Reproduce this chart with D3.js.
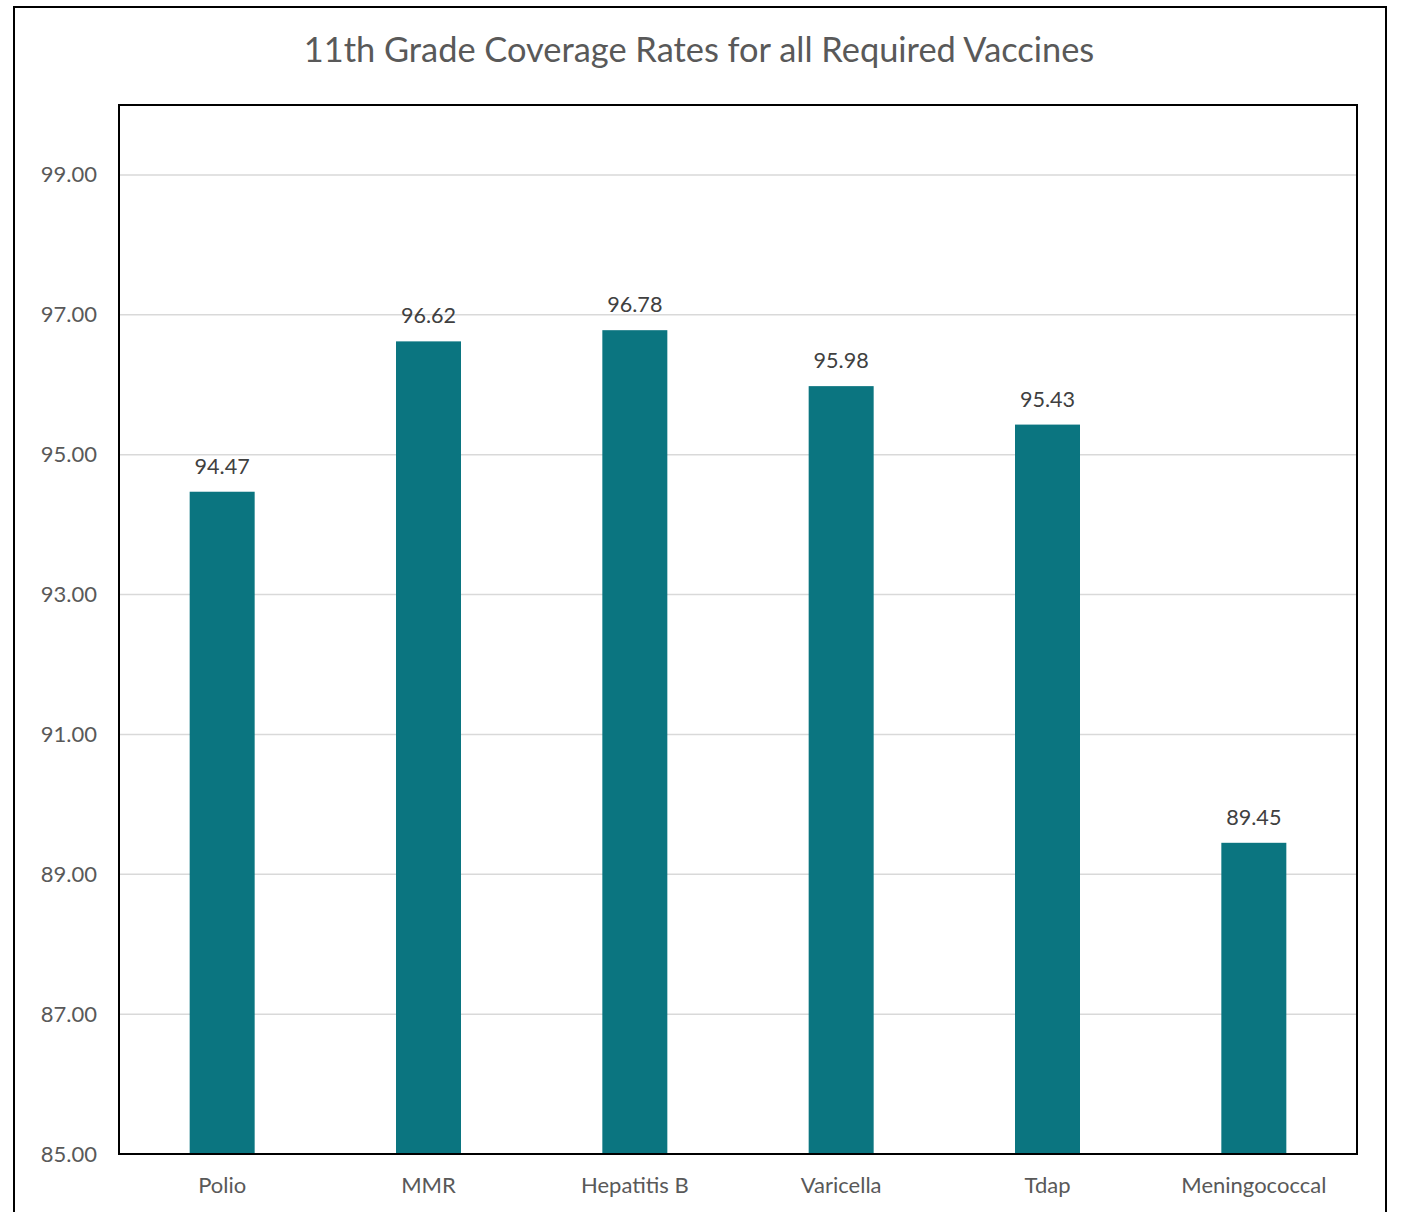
<!DOCTYPE html>
<html>
<head>
<style>
  body { margin: 0; background: #fff; }
  svg text { font-family: Lato, "Open Sans", sans-serif; }
</style>
</head>
<body>
<svg id="chart" width="1401" height="1212"></svg>
<script src="https://cdn.jsdelivr.net/npm/d3@7"></script>
<script>
// data
const categories = ["Polio", "MMR", "Hepatitis B", "Varicella", "Tdap", "Meningococcal"];
const coverage = [94.47, 96.62, 96.78, 95.98, 95.43, 89.45];
const yTicks = [85, 87, 89, 91, 93, 95, 97, 99];
const title = "11th Grade Coverage Rates for all Required Vaccines";

const svg = d3.select("#chart");
const margin = {left: 119, right: 44, top: 105, bottom: 58};
const W = 1401, H = 1212;

// outer frame
svg.append("rect")
  .attr("x", 14).attr("y", 7).attr("width", 1372).attr("height", 1220)
  .attr("fill", "none").attr("stroke", "#000").attr("stroke-width", 2);

svg.append("text")
  .attr("x", 699).attr("y", 62)
  .attr("text-anchor", "middle")
  .attr("font-size", 34.4)
  .attr("fill", "#595959")
  .text(title);

const x = d3.scaleBand()
  .domain(categories)
  .range([margin.left, W - margin.right])
  .paddingInner(0.685).paddingOuter(0.3425);

const y = d3.scaleLinear()
  .domain([85, 100])
  .range([H - margin.bottom, margin.top]);

// gridlines
svg.append("g")
  .selectAll("line")
  .data(yTicks.slice(1))
  .join("line")
    .attr("x1", margin.left).attr("x2", W - margin.right)
    .attr("y1", d => y(d)).attr("y2", d => y(d))
    .attr("stroke", "#d9d9d9").attr("stroke-width", 1.5);

// y axis labels
const yAxis = svg.append("g")
  .attr("transform", `translate(${margin.left},0)`)
  .call(d3.axisLeft(y).tickValues(yTicks).tickFormat(d3.format(".2f")).tickSize(0).tickPadding(22));
yAxis.select(".domain").remove();
yAxis.selectAll("text").attr("font-size", 22).attr("fill", "#595959").attr("font-family", "Lato, sans-serif");

// bars
svg.append("g")
  .selectAll("rect")
  .data(categories)
  .join("rect")
    .attr("x", d => x(d))
    .attr("width", x.bandwidth())
    .attr("y", (d, i) => y(coverage[i]))
    .attr("height", (d, i) => y(85) - y(coverage[i]))
    .attr("fill", "#0b7580");

// value labels
svg.append("g")
  .selectAll("text")
  .data(categories)
  .join("text")
    .attr("x", d => x(d) + x.bandwidth() / 2)
    .attr("y", (d, i) => y(coverage[i]) - 18)
    .attr("text-anchor", "middle")
    .attr("font-size", 21.6)
    .attr("fill", "#404040")
    .text((d, i) => coverage[i].toFixed(2));

// x axis labels
const xAxis = svg.append("g")
  .attr("transform", `translate(0,${H - margin.bottom})`)
  .call(d3.axisBottom(x).tickSize(0).tickPadding(23));
xAxis.select(".domain").remove();
xAxis.selectAll("text").attr("font-size", 22).attr("fill", "#595959").attr("font-family", "Lato, sans-serif");

// plot frame
svg.append("rect")
  .attr("x", margin.left).attr("y", margin.top)
  .attr("width", W - margin.left - margin.right)
  .attr("height", H - margin.top - margin.bottom)
  .attr("fill", "none").attr("stroke", "#000").attr("stroke-width", 2);
</script>
</body>
</html>
